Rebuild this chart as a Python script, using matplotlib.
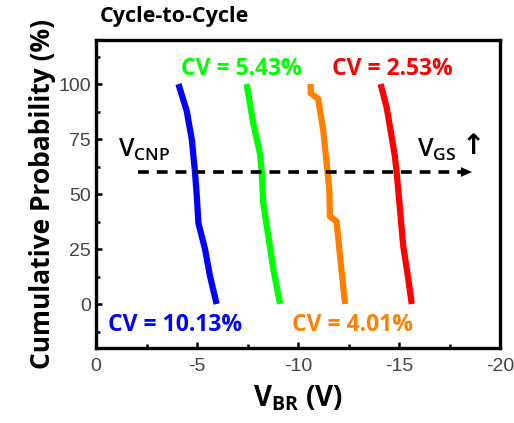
import matplotlib.pyplot as plt
from matplotlib.ticker import MultipleLocator

plt.rcParams['axes.unicode_minus'] = False

# read-off data: cumulative probability (%) vs breakdown voltage (V)
blue_v = [-4.08, -4.49, -4.74, -4.90, -4.98, -5.07, -5.40, -5.64, -5.97]
blue_p = [100, 87.8, 75, 60, 50.3, 36.8, 24.8, 12.8, 0]
green_v = [-7.46, -7.79, -8.12, -8.20, -8.28, -8.53, -8.78, -9.11]
green_p = [100, 81.8, 68.3, 60, 45.8, 30.8, 15.8, 0]
orange_v = [-10.63, -10.63, -11.0, -11.25, -11.42, -11.55, -11.58, -11.91, -12.08, -12.33]
orange_p = [100, 95.8, 93.3, 78.8, 63.8, 51.8, 39.8, 37.5, 21.8, 0]
red_v = [-14.09, -14.39, -14.64, -14.80, -14.88, -15.05, -15.21, -15.46, -15.63]
red_p = [100, 89.3, 75.8, 66.8, 60, 42.8, 26.3, 11.3, 0]

cv_labels = ['CV = 10.13%', 'CV = 5.43%', 'CV = 4.01%', 'CV = 2.53%']
colors = ['#0000ff', '#00ff00', '#ff8000', '#ff0000']

fig = plt.figure(figsize=(5.14, 4.23), dpi=100)
ax = fig.add_axes([0.1868, 0.1773, 0.786, 0.728])

for v, p, c in zip([blue_v, green_v, orange_v, red_v],
                   [blue_p, green_p, orange_p, red_p], colors):
    ax.plot(v, p, color=c, lw=4.5, solid_capstyle='butt')

ax.set_xlim(0, -20)
ax.set_ylim(-20, 120)
ax.xaxis.set_major_locator(MultipleLocator(5))
ax.xaxis.set_minor_locator(MultipleLocator(2.5))
ax.yaxis.set_minor_locator(MultipleLocator(12.5))
ax.set_yticks([0, 25, 50, 75, 100])
ax.tick_params(which='both', direction='in', width=1.8, top=False, right=False,
               labelsize=14, labelcolor='#444444')
ax.tick_params(which='major', length=4)
ax.tick_params(which='minor', length=3)
ax.tick_params(axis='x', pad=7)
for lab in ax.get_xticklabels() + ax.get_yticklabels():
    lab.set_family('Liberation Sans')
for s in ax.spines.values():
    s.set_linewidth(2.4)

# dashed arrow
ax.plot([-2.1, -18.2], [60, 60], color='black', ls=(0, (3, 2.2)), lw=2.6)
ax.annotate('', xy=(-18.75, 60), xytext=(-18.0, 60),
            arrowprops=dict(arrowstyle='-|>,head_width=0.35,head_length=0.8',
                            color='black', lw=0))

bold = dict(family='Open Sans', fontweight='bold')
ax.text(-1.1, 70, r'V$_{\mathregular{CNP}}$', fontsize=18, ha='left', va='center',
        family='Open Sans', fontweight='semibold')
ax.text(-15.9, 70, r'V$_{\mathregular{GS}}$', fontsize=18, ha='left',
        va='center', family='Open Sans', fontweight='semibold')
ax.text(-18.7, 72, '\u2191', fontsize=20, ha='center', va='center',
        family='DejaVu Sans', fontweight='bold')

ax.text(-3.9, -9.5, cv_labels[0], color=colors[0], fontsize=16.5, ha='center', va='center', **bold)
ax.text(-7.2, 107, cv_labels[1], color=colors[1], fontsize=16.5, ha='center', va='center', **bold)
ax.text(-12.7, -9.5, cv_labels[2], color=colors[2], fontsize=16.5, ha='center', va='center', **bold)
ax.text(-14.65, 107, cv_labels[3], color=colors[3], fontsize=16.5, ha='center', va='center', **bold)

fig.text(0.195, 0.962, 'Cycle-to-Cycle', fontsize=15.5, ha='left', va='center', **bold)
ax.set_ylabel('Cumulative Probability (%)', fontsize=19, labelpad=2, **bold)
ax.set_xlabel(r'V$_{\mathregular{BR}}$ (V)', fontsize=20, labelpad=6, **bold)

fig.savefig('out.png', dpi=100)
